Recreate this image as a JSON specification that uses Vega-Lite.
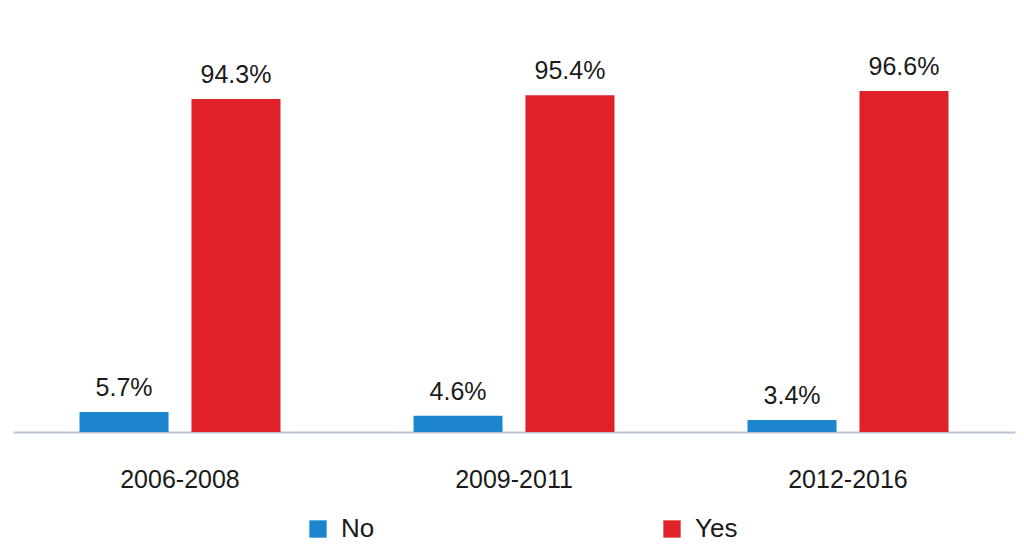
{
  "$schema": "https://vega.github.io/schema/vega-lite/v6.json",
  "autosize": {"type": "none"},
  "width": 1002,
  "height": 353,
  "padding": {"left": 13, "top": 79, "right": 9, "bottom": 117},
  "background": "white",
  "config": {"view": {"stroke": null}, "font": "Liberation Sans"},
  "data": {
    "values": [
      {"period": "2006-2008", "answer": "No", "share": 0.057},
      {"period": "2006-2008", "answer": "Yes", "share": 0.943},
      {"period": "2009-2011", "answer": "No", "share": 0.046},
      {"period": "2009-2011", "answer": "Yes", "share": 0.954},
      {"period": "2012-2016", "answer": "No", "share": 0.034},
      {"period": "2012-2016", "answer": "Yes", "share": 0.966}
    ]
  },
  "encoding": {
    "x": {
      "field": "period", "type": "nominal", "title": null,
      "scale": {"paddingInner": 0, "paddingOuter": 0},
      "axis": {"labelAngle": 0, "labelFontSize": 25, "labelColor": "#1a1a1a", "labelPadding": 35, "ticks": false, "domainColor": "#b9c3d6", "domainWidth": 2, "labelFont": "Liberation Sans"}
    },
    "xOffset": {"field": "answer", "type": "nominal", "scale": {"paddingInner": 0.205, "paddingOuter": 0.594}},
    "y": {"field": "share", "type": "quantitative", "scale": {"domain": [0, 1]}, "axis": null}
  },
  "layer": [
    {
      "mark": {"type": "bar"},
      "encoding": {
        "color": {
          "field": "answer", "type": "nominal",
          "scale": {"domain": ["No", "Yes"], "range": ["#1b86cf", "#df2229"]},
          "legend": {
            "title": null, "orient": "none", "direction": "horizontal",
            "legendX": 292, "legendY": 437, "padding": 0,
            "symbolType": "square", "symbolSize": 300, "symbolStrokeWidth": 0,
            "labelFontSize": 26, "labelColor": "#1a1a1a", "labelOffset": 10,
            "columnPadding": 284, "labelFont": "Liberation Sans"
          }
        }
      }
    },
    {
      "mark": {"type": "text", "baseline": "bottom", "dy": -11, "fontSize": 25, "color": "#1a1a1a", "font": "Liberation Sans"},
      "encoding": {"text": {"field": "share", "type": "quantitative", "format": ".1%"}}
    }
  ]
}
